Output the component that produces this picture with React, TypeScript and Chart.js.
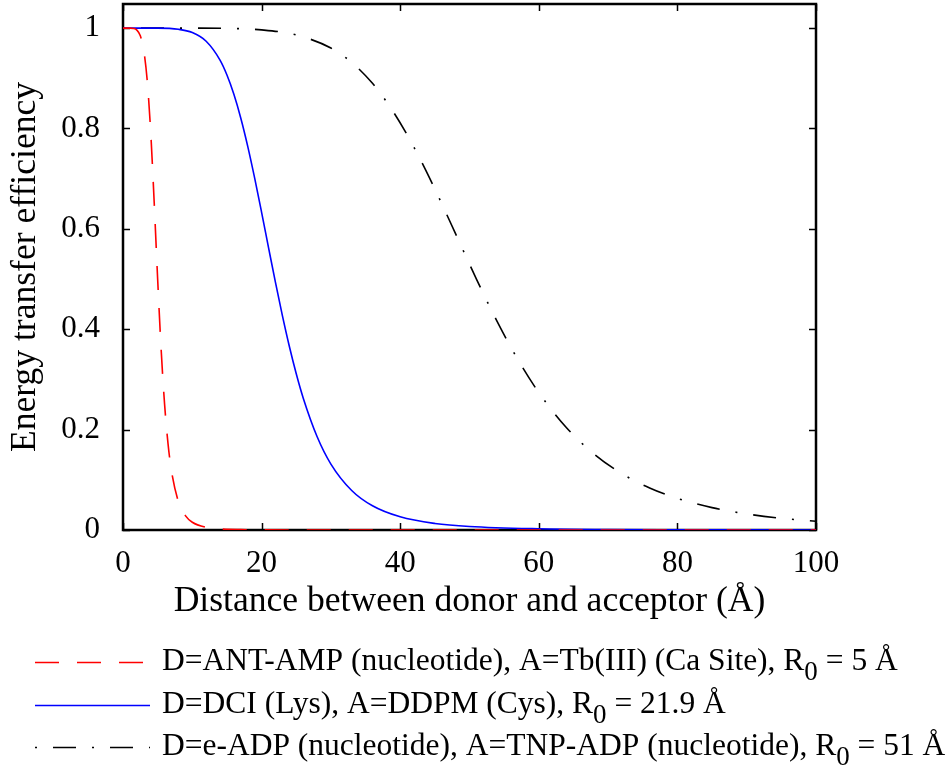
import React, { useEffect, useRef } from "react";
import { Chart, registerables } from "chart.js";

Chart.register(...registerables);

// Distance (Å) and energy-transfer efficiency
const antAmpX = [0, 1, 1.5, 2, 2.5, 3, 3.5, 4, 4.5, 5, 5.5, 6, 6.5, 7, 8, 9, 10, 12, 14, 17, 20, 30, 40, 50, 60, 70, 80, 90, 100];
const antAmpY = [1, 1, 0.9993, 0.9959, 0.9846, 0.9554, 0.8947, 0.7923, 0.653, 0.5, 0.3608, 0.2509, 0.1716, 0.1172, 0.0563, 0.0286, 0.0154, 0.0052, 0.0021, 0.00065, 0.00024, 0.00002, 0, 0, 0, 0, 0, 0, 0];

const dciX = [0, 5, 8, 10, 12, 14, 15, 16, 17, 18, 19, 20, 21, 22, 23, 24, 25, 26, 28, 30, 33, 36, 40, 45, 50, 60, 70, 80, 100];
const dciY = [1, 0.9999, 0.9976, 0.991, 0.9737, 0.9361, 0.9064, 0.868, 0.8205, 0.7644, 0.701, 0.6329, 0.5626, 0.4932, 0.427, 0.366, 0.3112, 0.2631, 0.1863, 0.1314, 0.0787, 0.0482, 0.0262, 0.0131, 0.007, 0.0024, 0.00094, 0.00042, 0.00011];

const eAdpX = [0, 5, 10, 15, 20, 25, 30, 33, 36, 39, 42, 45, 48, 51, 54, 57, 60, 64, 68, 72, 76, 80, 85, 90, 95, 100];
const eAdpY = [1, 1, 0.9999, 0.9994, 0.9964, 0.9863, 0.9602, 0.9316, 0.8899, 0.8333, 0.7622, 0.6794, 0.5899, 0.5, 0.4151, 0.3391, 0.2738, 0.2038, 0.1511, 0.1121, 0.0837, 0.0629, 0.0446, 0.0321, 0.0234, 0.0173];

const xTicks = [0, 20, 40, 60, 80, 100];
const yTicks = [0, 0.2, 0.4, 0.6, 0.8, 1];

const xTitle = "Distance between donor and acceptor (Å)";
const yTitle = "Energy transfer efficiency";

const legendItems = [
  { pre: "D=ANT-AMP (nucleotide), A=Tb(III) (Ca Site), R", sub: "0", post: " = 5 Å" },
  { pre: "D=DCI (Lys), A=DDPM (Cys), R", sub: "0", post: " = 21.9 Å" },
  { pre: "D=e-ADP (nucleotide), A=TNP-ADP (nucleotide), R", sub: "0", post: " = 51 Å" },
];

const colors = ["#ff0000", "#0000ff", "#000000"];
const dashes = [[24, 18], [], [2, 16, 23, 16]];

const FONT = '"Liberation Serif", "Times New Roman", serif';

const toPts = (xs: number[], ys: number[]) => xs.map((x, i) => ({ x, y: ys[i] }));

const framePlugin = {
  id: "frame",
  beforeDatasetsDraw(chart: any) {
    const { ctx, chartArea: a, scales } = chart;
    ctx.save();
    ctx.strokeStyle = "#000";
    ctx.lineWidth = 1.5;
    const tl = 7;
    ctx.beginPath();
    xTicks.forEach((v) => {
      const px = Math.round(scales.x.getPixelForValue(v)) + 0.5;
      ctx.moveTo(px, a.bottom);
      ctx.lineTo(px, a.bottom - tl);
      ctx.moveTo(px, a.top);
      ctx.lineTo(px, a.top + tl);
    });
    yTicks.forEach((v) => {
      const py = Math.round(scales.y.getPixelForValue(v)) + 0.5;
      ctx.moveTo(a.left, py);
      ctx.lineTo(a.left + tl, py);
      ctx.moveTo(a.right, py);
      ctx.lineTo(a.right - tl, py);
    });
    ctx.stroke();
    ctx.lineWidth = 2.5;
    ctx.strokeRect(a.left, a.top, a.right - a.left, a.bottom - a.top);
    ctx.restore();
  },
  afterDraw(chart: any) {
    const { ctx, chartArea: a } = chart;
    ctx.save();
    ctx.fillStyle = "#000";
    // axis titles
    ctx.font = `35.6px ${FONT}`;
    ctx.textAlign = "center";
    ctx.textBaseline = "middle";
    ctx.fillText(xTitle, (a.left + a.right) / 2, 602);
    ctx.save();
    ctx.translate(26, (a.top + a.bottom) / 2);
    ctx.rotate(-Math.PI / 2);
    ctx.fillText(yTitle, 0, 0);
    ctx.restore();
    // legend
    const rows = [662, 705, 747];
    legendItems.forEach((it, i) => {
      const y = rows[i];
      ctx.save();
      ctx.strokeStyle = colors[i];
      ctx.lineWidth = 1.5;
      ctx.setLineDash(dashes[i]);
      ctx.beginPath();
      ctx.moveTo(35, y + 0.5);
      ctx.lineTo(150, y + 0.5);
      ctx.stroke();
      ctx.restore();
      ctx.textAlign = "left";
      ctx.textBaseline = "middle";
      ctx.font = `31.5px ${FONT}`;
      let x = 162;
      ctx.fillText(it.pre, x, y);
      x += ctx.measureText(it.pre).width;
      ctx.font = `27px ${FONT}`;
      ctx.fillText(it.sub, x, y + 11);
      x += ctx.measureText(it.sub).width;
      ctx.font = `31.5px ${FONT}`;
      ctx.fillText(it.post, x, y);
    });
    ctx.restore();
  },
};

export default function App() {
  const ref = useRef<HTMLCanvasElement>(null);
  useEffect(() => {
    document.body.style.margin = "0";
    const chart = new Chart(ref.current!, {
      type: "line",
      data: {
        datasets: [
          { data: toPts(antAmpX, antAmpY), borderColor: colors[0], borderDash: dashes[0] },
          { data: toPts(dciX, dciY), borderColor: colors[1], borderDash: dashes[1] },
          { data: toPts(eAdpX, eAdpY), borderColor: colors[2], borderDash: dashes[2] },
        ].map((d) => ({
          ...d,
          borderWidth: 1.6,
          pointRadius: 0,
          fill: false,
          cubicInterpolationMode: "monotone" as const,
          borderCapStyle: "butt" as const,
        })),
      },
      options: {
        animation: false,
        responsive: false,
        events: [],
        layout: { padding: { left: 0, top: 4, right: 130, bottom: 0 } },
        plugins: { legend: { display: false }, tooltip: { enabled: false } },
        scales: {
          x: {
            type: "linear",
            min: 0,
            max: 100,
            grid: { display: false },
            border: { display: false },
            afterBuildTicks: (s: any) => {
              s.ticks = xTicks.map((v) => ({ value: v }));
            },
            afterFit: (s: any) => {
              s.height = 242;
              s.paddingLeft = 0;
              s.paddingRight = 0;
            },
            ticks: {
              color: "#000",
              padding: 7,
              maxRotation: 0,
              font: { family: FONT, size: 31 },
              callback: (v: any) => String(v),
            },
          },
          y: {
            type: "linear",
            min: 0,
            max: 1.048,
            grid: { display: false },
            border: { display: false },
            afterBuildTicks: (s: any) => {
              s.ticks = yTicks.map((v) => ({ value: v }));
            },
            afterFit: (s: any) => {
              s.width = 123;
              s.paddingTop = 0;
              s.paddingBottom = 0;
            },
            ticks: {
              color: "#000",
              padding: 15,
              font: { family: FONT, size: 31 },
              callback: (v: any) => String(Math.round(v * 10) / 10),
            },
          },
        },
      },
      plugins: [framePlugin],
    });
    return () => chart.destroy();
  }, []);
  return <canvas ref={ref} width={946} height={772} style={{ display: "block" }} />;
}
